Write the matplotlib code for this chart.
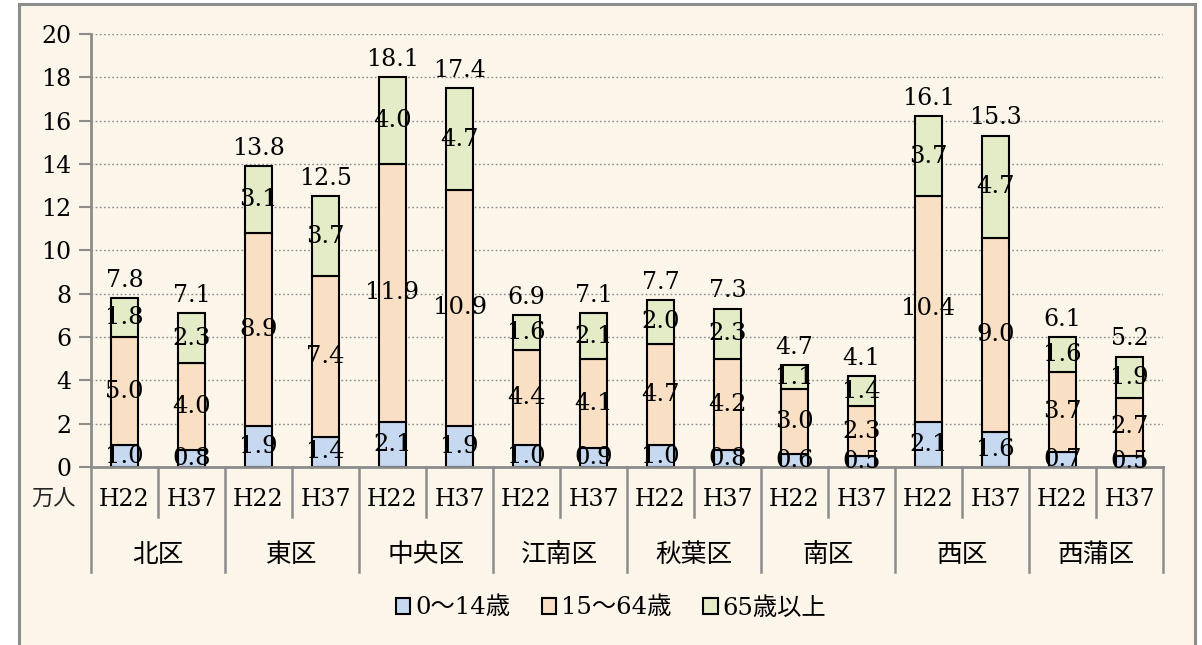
import matplotlib
matplotlib.use("Agg")
import matplotlib.pyplot as plt
from matplotlib.patches import Rectangle, Patch
import matplotlib.transforms as mtransforms
import numpy as np

districts = ["北区", "東区", "中央区", "江南区", "秋葉区", "南区", "西区", "西蒲区"]
years = ["H22", "H37"]
series_names = ["0～14歳", "15～64歳", "65歳以上"]

age_0_14 = [1.0, 0.8, 1.9, 1.4, 2.1, 1.9, 1.0, 0.9, 1.0, 0.8, 0.6, 0.5, 2.1, 1.6, 0.7, 0.5]
age_15_64 = [5.0, 4.0, 8.9, 7.4, 11.9, 10.9, 4.4, 4.1, 4.7, 4.2, 3.0, 2.3, 10.4, 9.0, 3.7, 2.7]
age_65 = [1.8, 2.3, 3.1, 3.7, 4.0, 4.7, 1.6, 2.1, 2.0, 2.3, 1.1, 1.4, 3.7, 4.7, 1.6, 1.9]
totals = [7.8, 7.1, 13.8, 12.5, 18.1, 17.4, 6.9, 7.1, 7.7, 7.3, 4.7, 4.1, 16.1, 15.3, 6.1, 5.2]

yticks = [0, 2, 4, 6, 8, 10, 12, 14, 16, 18, 20]

colors = ["#C6D9F0", "#F9DFC3", "#E4EBC7"]
bg = "#FBF5EA"
gray = "#8C8C8C"
latin = ["DejaVu Serif", "Noto Sans CJK JP"]
FS = 17.5

W, H = 1202, 645
fig = plt.figure(figsize=(W / 100, H / 100), dpi=100)
fig.patch.set_facecolor("white")

# outer chart frame
frame = Rectangle((19 / W, -0.02), (1195 - 19) / W, 1 - 4 / H + 0.02,
                  transform=fig.transFigure, facecolor=bg, edgecolor=gray,
                  linewidth=2.2, zorder=-10)
fig.patches.append(frame)

ax_left, ax_right, ax_top, ax_bot = 91, 1163, 34, 467
ax = fig.add_axes([ax_left / W, (H - ax_bot) / H, (ax_right - ax_left) / W, (ax_bot - ax_top) / H])
ax.set_facecolor("none")
ax.set_zorder(2)

n = len(age_0_14)
x = np.arange(n)
bw = 0.4
series = [age_0_14, age_15_64, age_65]
bottom = np.zeros(n)
for vals, c, name in zip(series, colors, series_names):
    vals = np.array(vals)
    ax.bar(x, vals, bw, bottom=bottom, color=c, edgecolor="black", linewidth=1.5, label=name, zorder=3)
    for xi, b, v in zip(x, bottom, vals):
        ax.text(xi, b + v / 2, f"{v:.1f}", ha="center", va="center", fontsize=FS,
                family=latin, zorder=5)
    bottom = bottom + vals

for xi, top, t in zip(x, bottom, totals):
    ax.annotate(f"{t:.1f}", (xi, top), xytext=(0, 13), textcoords="offset points",
                ha="center", va="center", fontsize=FS - 0.5, family=latin, zorder=5)

ax.set_xlim(-0.5, n - 0.5)
ax.set_ylim(0, 20)
ax.set_yticks(yticks)
ax.set_yticklabels([str(v) for v in yticks], fontsize=17, family=latin)
ax.tick_params(axis="y", direction="out", length=9, width=1.5, color=gray, pad=5)
ax.set_xticks([])
for yv in yticks[1:]:
    ax.axhline(yv, color="#8a8a8a", linestyle=(0, (1.2, 1.8)), linewidth=1.0, zorder=1)
for s in ["top", "right"]:
    ax.spines[s].set_visible(False)
for s in ["left", "bottom"]:
    ax.spines[s].set_color(gray)
    ax.spines[s].set_linewidth(2)
ax.spines["bottom"].set_zorder(4)

trans = mtransforms.blended_transform_factory(ax.transData, ax.transAxes)
axh = ax_bot - ax_top
short_end = -(517 - ax_bot) / axh
long_end = -(572 - ax_bot) / axh
year_y = -(499 - ax_bot) / axh
dist_y = -(555 - ax_bot) / axh

for k in range(n + 1):
    xb = k - 0.5
    end = long_end if k % 2 == 0 else short_end
    ax.plot([xb, xb], [0, end], transform=trans, color=gray, linewidth=1.8, clip_on=False)

for i in range(n):
    ax.text(i, year_y, years[i % 2], transform=trans, ha="center", va="center",
            fontsize=17, family=latin)
for j, d in enumerate(districts):
    ax.text(2 * j + 0.5, dist_y, d, transform=trans, ha="center", va="center",
            fontsize=18.5, family=["Noto Sans CJK JP"])

fig.text(54 / W, 1 - 499 / H, "万人", ha="center", va="center", fontsize=16,
         family=["Noto Sans CJK JP"], color="#262626")

handles = [Patch(facecolor=c, edgecolor="black", linewidth=1.5) for c in colors]
leg = fig.legend(handles, series_names, loc="center", bbox_to_anchor=(611 / W, 1 - 608 / H),
                 ncol=3, frameon=False, prop={"family": latin, "size": 17.5},
                 handlelength=0.6, handleheight=0.6, handletextpad=0.2, columnspacing=1.3)

fig.savefig("out.png", dpi=100, facecolor=fig.get_facecolor())
